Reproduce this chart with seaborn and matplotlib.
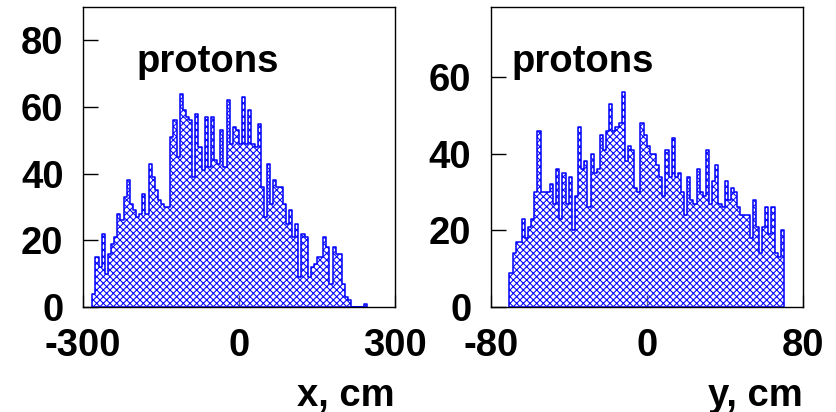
import numpy as np
import pandas as pd
import matplotlib
matplotlib.use("Agg")
import matplotlib.pyplot as plt
import seaborn as sns

# proton hit positions, counts per bin
x_bin_width = 6.0      # cm, 100 bins over -300..300
x_first_edge = -282.0
x_counts = [4, 15, 12, 22, 10, 16, 19, 21, 28, 26,
            33, 38, 31, 29, 27, 28, 34, 28, 43, 39,
            35, 32, 31, 30, 30, 51, 56, 45, 64, 59,
            57, 56, 39, 58, 48, 41, 57, 42, 57, 44,
            43, 53, 42, 62, 49, 54, 53, 49, 63, 49,
            59, 49, 48, 55, 36, 27, 43, 31, 38, 36,
            36, 31, 25, 29, 21, 25, 9, 22, 21, 9,
            12, 13, 15, 15, 21, 18, 7, 18, 16, 16,
            7, 3, 2, 0, 0, 0, 0, 1]

y_bin_width = 1.6      # cm, 100 bins over -80..80
y_first_edge = -70.4
y_counts = [9, 14, 17, 17, 23, 18, 21, 23, 30, 46,
            30, 30, 30, 32, 27, 36, 23, 35, 27, 34,
            20, 29, 47, 36, 38, 26, 40, 35, 36, 45,
            41, 46, 53, 46, 47, 48, 56, 38, 42, 41,
            31, 30, 48, 45, 42, 40, 40, 37, 34, 29,
            41, 34, 44, 34, 35, 30, 24, 34, 28, 27,
            36, 30, 29, 41, 27, 33, 37, 27, 26, 33,
            28, 31, 30, 26, 24, 24, 24, 18, 28, 21,
            14, 21, 26, 19, 26, 14, 13, 20]

x_ticks = [-300, 0, 300]
x_yticks = [0, 20, 40, 60, 80]
y_ticks = [-80, 0, 80]
y_yticks = [0, 20, 40, 60]


def to_frame(first_edge, width, counts):
    edges = first_edge + width * np.arange(len(counts) + 1)
    centers = edges[:-1] + width / 2
    return pd.DataFrame({"pos": centers, "n": counts}), edges.tolist()


sns.set_style("white")
plt.rcParams["font.family"] = ["Liberation Sans", "DejaVu Sans"]
plt.rcParams["font.weight"] = "bold"
plt.rcParams["text.color"] = "black"
plt.rcParams["xtick.color"] = "black"
plt.rcParams["ytick.color"] = "black"
plt.rcParams["axes.unicode_minus"] = False
plt.rcParams["hatch.color"] = "blue"
plt.rcParams["hatch.linewidth"] = 0.75

fig = plt.figure(figsize=(8.37, 4.12), dpi=100)
W, H = 837, 412
ax_l = fig.add_axes([83 / W, 1 - 307 / H, 312 / W, 300 / H])
ax_r = fig.add_axes([490.7 / W, 1 - 307 / H, 312 / W, 300 / H])

panels = [
    (ax_l, x_first_edge, x_bin_width, x_counts, (-300, 300), (0, 90), x_ticks, x_yticks, "x, cm", 0.170),
    (ax_r, y_first_edge, y_bin_width, y_counts, (-80, 80), (0, 78.3), y_ticks, y_yticks, "y, cm", 0.067),
]

for ax, e0, w, counts, xlim, ylim, xt, yt, lab, tx in panels:
    df, edges = to_frame(e0, w, counts)
    sns.histplot(data=df, x="pos", weights="n", bins=edges, element="step",
                 fill=True, color="blue", hatch="xxxxx", linewidth=1.1, ax=ax)
    # hollow fill, only the blue cross-hatch and outline
    for coll in ax.collections:
        coll.set_facecolor("none")
        coll.set_edgecolor("blue")
    ax.set_xlim(*xlim)
    ax.set_ylim(*ylim)
    ax.set_xticks(xt)
    ax.set_yticks(yt)
    ax.tick_params(axis="y", direction="in", length=10.8, width=1, color="black",
                   labelcolor="black", pad=14, labelsize=27.5, left=True, right=False)
    ax.tick_params(axis="x", direction="in", length=9, width=1, color="0.45",
                   labelcolor="black", pad=15, labelsize=27.5, bottom=True, top=False)
    for s in ax.spines.values():
        s.set_color("black")
        s.set_linewidth(1.0)
    ax.set_ylabel("")
    ax.set_xlabel(lab, fontsize=27.5, fontweight="bold", loc="right", color="black")
    ax.xaxis.set_label_coords(1.0, -0.235)
    ax.text(tx, 0.783, "protons", transform=ax.transAxes, fontsize=27.5,
            fontweight="bold", va="baseline", ha="left")

fig.savefig("out.png", dpi=100)
